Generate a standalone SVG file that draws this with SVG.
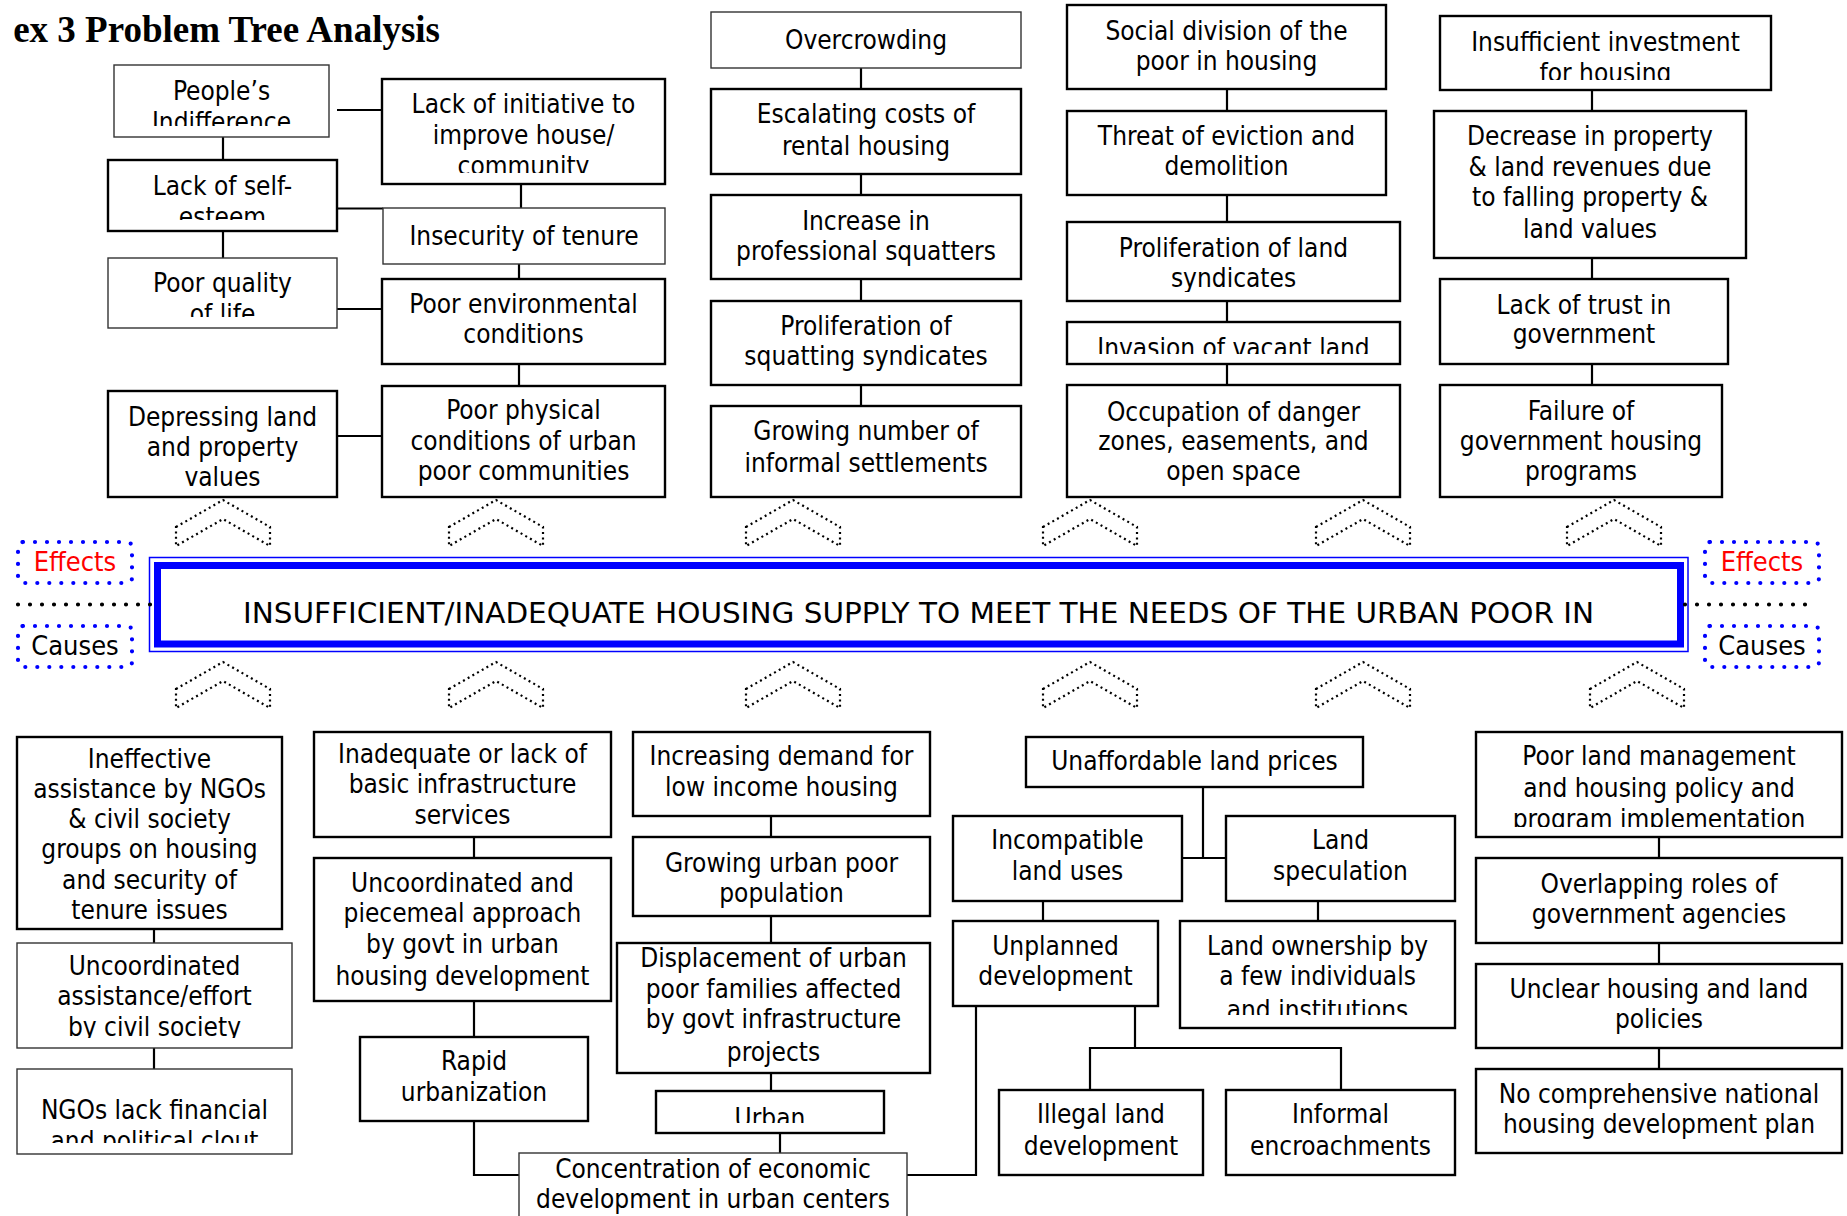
<svg xmlns="http://www.w3.org/2000/svg" width="1847" height="1216" viewBox="0 0 1847 1216">
  <style>
    .bx { fill: #fff; stroke: #000; stroke-width: 2.4; }
    .bt { fill: #fff; stroke: #333; stroke-width: 1.4; }
    .t { font-family: 'DejaVu Sans Condensed', 'DejaVu Sans', sans-serif; font-stretch: condensed; font-size: 26px; fill: #000; text-anchor: middle; }
    .ln { fill: none; stroke: #000; stroke-width: 2.2; }
    .chev { fill: none; stroke: #000; stroke-width: 2.2; stroke-dasharray: 2 3.4; }
    .legend { fill: none; stroke: #0000ff; stroke-width: 4.2; stroke-linecap: round; stroke-dasharray: 0 12; }
    .sep { fill: none; stroke: #000; stroke-width: 4.2; stroke-linecap: round; stroke-dasharray: 0 12; }
    .lt { font-family: 'DejaVu Sans Condensed', 'DejaVu Sans', sans-serif; font-stretch: condensed; font-size: 27px; text-anchor: middle; }
  </style>
  <defs>
    <path id="chevron" d="M-47,27 L0,0 L47,27 L47,46 L0,19 L-47,46 Z"/>
    <clipPath id="cA"><rect x="114" y="65" width="215" height="61"/></clipPath>
    <clipPath id="cB"><rect x="382" y="79" width="283" height="94"/></clipPath>
    <clipPath id="cC"><rect x="108" y="160" width="229" height="60"/></clipPath>
    <clipPath id="cE"><rect x="108" y="258" width="229" height="59"/></clipPath>
    <clipPath id="cH"><rect x="108" y="391" width="229" height="96"/></clipPath>
    <clipPath id="cP"><rect x="1067" y="222" width="333" height="70"/></clipPath>
    <clipPath id="cQ"><rect x="1067" y="322" width="333" height="32"/></clipPath>
    <clipPath id="cS"><rect x="1440" y="16" width="331" height="64"/></clipPath>
    <clipPath id="cX"><rect x="17" y="943" width="275" height="95"/></clipPath>
    <clipPath id="cY"><rect x="17" y="1069" width="275" height="74"/></clipPath>
    <clipPath id="cZ"><rect x="314" y="732" width="297" height="95"/></clipPath>
    <clipPath id="cAG"><rect x="656" y="1091" width="228" height="32"/></clipPath>
    <clipPath id="cAL"><rect x="1180" y="921" width="275" height="94"/></clipPath>
    <clipPath id="cAO"><rect x="1476" y="732" width="366" height="95"/></clipPath>
  </defs>

  <rect width="1847" height="1216" fill="#fff"/>

  <!-- heading -->
  <text x="440" y="42" font-family="'Liberation Serif', 'Times New Roman', serif" font-weight="bold" font-size="37" text-anchor="end">ex 3 Problem Tree Analysis</text>

  <!-- connectors -->
  <g id="connectors" class="ln">
    <path d="M337 110 H382"/>
    <path d="M223 137 V160"/>
    <path d="M521 184 V208"/>
    <path d="M337 208.5 H383"/>
    <path d="M223 231 V258"/>
    <path d="M519 264 V279"/>
    <path d="M337 309 H382"/>
    <path d="M519 364 V386"/>
    <path d="M337 436 H382"/>
    <path d="M861 68 V89 M861 174 V195 M861 279 V301 M861 385 V406"/>
    <path d="M1227 89 V111 M1227 195 V222 M1227 301 V322 M1227 364 V385"/>
    <path d="M1592 90 V111 M1592 258 V279 M1592 364 V385"/>
    <path d="M154 929 V943 M154 1048 V1069"/>
    <path d="M474 837 V858 M474 1001 V1037"/>
    <path d="M474 1121 V1175 H519"/>
    <path d="M771 816 V837 M771 916 V943 M771 1073 V1091 M780 1133 V1153"/>
    <path d="M907 1175 H976 V1006"/>
    <path d="M1203 787 V858 M1182 858 H1226"/>
    <path d="M1043 901 V921 M1318 901 V921"/>
    <path d="M1135 1006 V1048 M1090 1090 V1048 H1341 V1090"/>
    <path d="M1659 837 V858 M1659 943 V964 M1659 1048 V1069"/>
  </g>

  <!-- dotted double chevrons above and below the core problem -->
  <g id="chevrons" class="chev">
    <use href="#chevron" transform="translate(223 500)"/>
    <use href="#chevron" transform="translate(496 500)"/>
    <use href="#chevron" transform="translate(793 500)"/>
    <use href="#chevron" transform="translate(1090 500)"/>
    <use href="#chevron" transform="translate(1363 500)"/>
    <use href="#chevron" transform="translate(1614 500)"/>
    <use href="#chevron" transform="translate(223 662)"/>
    <use href="#chevron" transform="translate(496 662)"/>
    <use href="#chevron" transform="translate(793 662)"/>
    <use href="#chevron" transform="translate(1090 662)"/>
    <use href="#chevron" transform="translate(1363 662)"/>
    <use href="#chevron" transform="translate(1637 662)"/>
  </g>

  <!-- core problem -->
  <g id="core">
    <rect x="149.5" y="557.5" width="1538.5" height="94" fill="#fff" stroke="#0000ff" stroke-width="1.5"/>
    <rect x="157.5" y="565.5" width="1523" height="78.5" fill="#fff" stroke="#0000ff" stroke-width="7"/>
    <text x="243" y="623" font-family="'DejaVu Sans Condensed', 'DejaVu Sans', sans-serif" font-stretch="condensed" font-size="29" textLength="1351" lengthAdjust="spacingAndGlyphs">INSUFFICIENT/INADEQUATE HOUSING SUPPLY TO MEET THE NEEDS OF THE URBAN POOR IN</text>
  </g>

  <!-- effects / causes legend -->
  <g id="legend-left">
    <rect x="18" y="542" width="114" height="41" rx="5" class="legend"/>
    <text x="75" y="571" class="lt" fill="#ff0000">Effects</text>
    <path d="M18 604.5 H152" class="sep"/>
    <rect x="18" y="626" width="114" height="41" rx="5" class="legend"/>
    <text x="75" y="655" class="lt" fill="#000">Causes</text>
  </g>
  <g id="legend-right">
    <rect x="1705" y="542" width="114" height="41" rx="5" class="legend"/>
    <text x="1762" y="571" class="lt" fill="#ff0000">Effects</text>
    <path d="M1685 604.5 H1817" class="sep"/>
    <rect x="1705" y="626" width="114" height="41" rx="5" class="legend"/>
    <text x="1762" y="655" class="lt" fill="#000">Causes</text>
  </g>

  <!-- effects -->
  <g id="n-peoples-indifference">
    <rect x="114" y="65" width="215" height="72" class="bt"/>
    <text class="t" clip-path="url(#cA)"><tspan x="221.5" y="100">People’s</tspan><tspan x="221.5" y="131">Indifference</tspan></text>
  </g>
  <g id="n-lack-initiative">
    <rect x="382" y="79" width="283" height="105" class="bx"/>
    <text class="t" clip-path="url(#cB)"><tspan x="523.5" y="113">Lack of initiative to</tspan><tspan x="523.5" y="144">improve house/</tspan><tspan x="523.5" y="175">community</tspan></text>
  </g>
  <g id="n-self-esteem">
    <rect x="108" y="160" width="229" height="71" class="bx"/>
    <text class="t" clip-path="url(#cC)"><tspan x="222.5" y="195">Lack of self-</tspan><tspan x="222.5" y="226">esteem</tspan></text>
  </g>
  <g id="n-insecurity">
    <rect x="383" y="208" width="282" height="56" class="bt"/>
    <text class="t"><tspan x="524" y="245">Insecurity of tenure</tspan></text>
  </g>
  <g id="n-quality-of-life">
    <rect x="108" y="258" width="229" height="70" class="bt"/>
    <text class="t" clip-path="url(#cE)"><tspan x="222.5" y="292">Poor quality</tspan><tspan x="222.5" y="323">of life</tspan></text>
  </g>
  <g id="n-environment">
    <rect x="382" y="279" width="283" height="85" class="bx"/>
    <text class="t"><tspan x="523.5" y="313">Poor environmental</tspan><tspan x="523.5" y="343">conditions</tspan></text>
  </g>
  <g id="n-physical">
    <rect x="382" y="386" width="283" height="111" class="bx"/>
    <text class="t"><tspan x="523.5" y="419">Poor physical</tspan><tspan x="523.5" y="450">conditions of urban</tspan><tspan x="523.5" y="480">poor communities</tspan></text>
  </g>
  <g id="n-depressing-values">
    <rect x="108" y="391" width="229" height="106" class="bx"/>
    <text class="t" clip-path="url(#cH)"><tspan x="222.5" y="426">Depressing land</tspan><tspan x="222.5" y="456">and property</tspan><tspan x="222.5" y="486">values</tspan></text>
  </g>

  <g id="n-overcrowding">
    <rect x="711" y="12" width="310" height="56" class="bt"/>
    <text class="t"><tspan x="866" y="49">Overcrowding</tspan></text>
  </g>
  <g id="n-rental-costs">
    <rect x="711" y="89" width="310" height="85" class="bx"/>
    <text class="t"><tspan x="866" y="123">Escalating costs of</tspan><tspan x="866" y="155">rental housing</tspan></text>
  </g>
  <g id="n-professional-squatters">
    <rect x="711" y="195" width="310" height="84" class="bx"/>
    <text class="t"><tspan x="866" y="230">Increase in</tspan><tspan x="866" y="260">professional squatters</tspan></text>
  </g>
  <g id="n-squatting-syndicates">
    <rect x="711" y="301" width="310" height="84" class="bx"/>
    <text class="t"><tspan x="866" y="335">Proliferation of</tspan><tspan x="866" y="365">squatting syndicates</tspan></text>
  </g>
  <g id="n-informal-settlements">
    <rect x="711" y="406" width="310" height="91" class="bx"/>
    <text class="t"><tspan x="866" y="440">Growing number of</tspan><tspan x="866" y="472">informal settlements</tspan></text>
  </g>

  <g id="n-social-division">
    <rect x="1067" y="5" width="319" height="84" class="bx"/>
    <text class="t"><tspan x="1226.5" y="40">Social division of the</tspan><tspan x="1226.5" y="70">poor in housing</tspan></text>
  </g>
  <g id="n-eviction">
    <rect x="1067" y="111" width="319" height="84" class="bx"/>
    <text class="t"><tspan x="1226.5" y="145">Threat of eviction and</tspan><tspan x="1226.5" y="175">demolition</tspan></text>
  </g>
  <g id="n-land-syndicates">
    <rect x="1067" y="222" width="333" height="79" class="bx"/>
    <text class="t" clip-path="url(#cP)"><tspan x="1233.5" y="257">Proliferation of land</tspan><tspan x="1233.5" y="287">syndicates</tspan></text>
  </g>
  <g id="n-vacant-land">
    <rect x="1067" y="322" width="333" height="42" class="bx"/>
    <text class="t" clip-path="url(#cQ)"><tspan x="1233.5" y="357">Invasion of vacant land</tspan></text>
  </g>
  <g id="n-danger-zones">
    <rect x="1067" y="385" width="333" height="112" class="bx"/>
    <text class="t"><tspan x="1233.5" y="421">Occupation of danger</tspan><tspan x="1233.5" y="450">zones, easements, and</tspan><tspan x="1233.5" y="480">open space</tspan></text>
  </g>

  <g id="n-investment">
    <rect x="1440" y="16" width="331" height="74" class="bx"/>
    <text class="t" clip-path="url(#cS)"><tspan x="1605.5" y="51">Insufficient investment</tspan><tspan x="1605.5" y="82">for housing</tspan></text>
  </g>
  <g id="n-revenues">
    <rect x="1434" y="111" width="312" height="147" class="bx"/>
    <text class="t"><tspan x="1590" y="145">Decrease in property</tspan><tspan x="1590" y="176">&amp; land revenues due</tspan><tspan x="1590" y="206">to falling property &amp;</tspan><tspan x="1590" y="238">land values</tspan></text>
  </g>
  <g id="n-trust">
    <rect x="1440" y="279" width="288" height="85" class="bx"/>
    <text class="t"><tspan x="1584" y="314">Lack of trust in</tspan><tspan x="1584" y="343">government</tspan></text>
  </g>
  <g id="n-program-failure">
    <rect x="1440" y="385" width="282" height="112" class="bx"/>
    <text class="t"><tspan x="1581" y="420">Failure of</tspan><tspan x="1581" y="450">government housing</tspan><tspan x="1581" y="480">programs</tspan></text>
  </g>

  <!-- causes -->
  <g id="n-ngo-assistance">
    <rect x="17" y="737" width="265" height="192" class="bx"/>
    <text class="t"><tspan x="149.5" y="768">Ineffective</tspan><tspan x="149.5" y="798">assistance by NGOs</tspan><tspan x="149.5" y="828">&amp; civil society</tspan><tspan x="149.5" y="858">groups on housing</tspan><tspan x="149.5" y="889">and security of</tspan><tspan x="149.5" y="919">tenure issues</tspan></text>
  </g>
  <g id="n-civil-effort">
    <rect x="17" y="943" width="275" height="105" class="bt"/>
    <text class="t" clip-path="url(#cX)"><tspan x="154.5" y="975">Uncoordinated</tspan><tspan x="154.5" y="1005">assistance/effort</tspan><tspan x="154.5" y="1036">by civil society</tspan></text>
  </g>
  <g id="n-ngo-clout">
    <rect x="17" y="1069" width="275" height="85" class="bt"/>
    <text class="t" clip-path="url(#cY)"><tspan x="154.5" y="1119">NGOs lack financial</tspan><tspan x="154.5" y="1150">and political clout</tspan></text>
  </g>
  <g id="n-infrastructure">
    <rect x="314" y="732" width="297" height="105" class="bx"/>
    <text class="t" clip-path="url(#cZ)"><tspan x="462.5" y="763">Inadequate or lack of</tspan><tspan x="462.5" y="793">basic infrastructure</tspan><tspan x="462.5" y="824">services</tspan></text>
  </g>
  <g id="n-piecemeal">
    <rect x="314" y="858" width="297" height="143" class="bx"/>
    <text class="t"><tspan x="462.5" y="892">Uncoordinated and</tspan><tspan x="462.5" y="922">piecemeal approach</tspan><tspan x="462.5" y="953">by govt in urban</tspan><tspan x="462.5" y="985">housing development</tspan></text>
  </g>
  <g id="n-urbanization">
    <rect x="360" y="1037" width="228" height="84" class="bx"/>
    <text class="t"><tspan x="474" y="1070">Rapid</tspan><tspan x="474" y="1101">urbanization</tspan></text>
  </g>
  <g id="n-concentration">
    <rect x="519" y="1153" width="388" height="80" class="bt"/>
    <text class="t"><tspan x="713" y="1178">Concentration of economic</tspan><tspan x="713" y="1208">development in urban centers</tspan></text>
  </g>
  <g id="n-demand">
    <rect x="633" y="732" width="297" height="84" class="bx"/>
    <text class="t"><tspan x="781.5" y="765">Increasing demand for</tspan><tspan x="781.5" y="796">low income housing</tspan></text>
  </g>
  <g id="n-population">
    <rect x="633" y="837" width="297" height="79" class="bx"/>
    <text class="t"><tspan x="781.5" y="872">Growing urban poor</tspan><tspan x="781.5" y="902">population</tspan></text>
  </g>
  <g id="n-displacement">
    <rect x="617" y="943" width="313" height="130" class="bx"/>
    <text class="t"><tspan x="773.5" y="967">Displacement of urban</tspan><tspan x="773.5" y="998">poor families affected</tspan><tspan x="773.5" y="1028">by govt infrastructure</tspan><tspan x="773.5" y="1061">projects</tspan></text>
  </g>
  <g id="n-urban">
    <rect x="656" y="1091" width="228" height="42" class="bx"/>
    <text class="t" clip-path="url(#cAG)"><tspan x="770" y="1127">Urban</tspan></text>
  </g>

  <g id="n-land-prices">
    <rect x="1026" y="737" width="337" height="50" class="bx"/>
    <text class="t"><tspan x="1194.5" y="770">Unaffordable land prices</tspan></text>
  </g>
  <g id="n-land-uses">
    <rect x="953" y="816" width="229" height="85" class="bx"/>
    <text class="t"><tspan x="1067.5" y="849">Incompatible</tspan><tspan x="1067.5" y="880">land uses</tspan></text>
  </g>
  <g id="n-speculation">
    <rect x="1226" y="816" width="229" height="85" class="bx"/>
    <text class="t"><tspan x="1340.5" y="849">Land</tspan><tspan x="1340.5" y="880">speculation</tspan></text>
  </g>
  <g id="n-unplanned">
    <rect x="953" y="921" width="205" height="85" class="bx"/>
    <text class="t"><tspan x="1055.5" y="955">Unplanned</tspan><tspan x="1055.5" y="985">development</tspan></text>
  </g>
  <g id="n-ownership">
    <rect x="1180" y="921" width="275" height="107" class="bx"/>
    <text class="t" clip-path="url(#cAL)"><tspan x="1317.5" y="955">Land ownership by</tspan><tspan x="1317.5" y="985">a few individuals</tspan><tspan x="1317.5" y="1019">and institutions</tspan></text>
  </g>
  <g id="n-illegal">
    <rect x="999" y="1090" width="204" height="85" class="bx"/>
    <text class="t"><tspan x="1101" y="1123">Illegal land</tspan><tspan x="1101" y="1155">development</tspan></text>
  </g>
  <g id="n-encroachments">
    <rect x="1226" y="1090" width="229" height="85" class="bx"/>
    <text class="t"><tspan x="1340.5" y="1123">Informal</tspan><tspan x="1340.5" y="1155">encroachments</tspan></text>
  </g>

  <g id="n-land-management">
    <rect x="1476" y="732" width="366" height="105" class="bx"/>
    <text class="t" clip-path="url(#cAO)"><tspan x="1659" y="765">Poor land management</tspan><tspan x="1659" y="797">and housing policy and</tspan><tspan x="1659" y="828">program implementation</tspan></text>
  </g>
  <g id="n-overlapping-roles">
    <rect x="1476" y="858" width="366" height="85" class="bx"/>
    <text class="t"><tspan x="1659" y="893">Overlapping roles of</tspan><tspan x="1659" y="923">government agencies</tspan></text>
  </g>
  <g id="n-unclear-policies">
    <rect x="1476" y="964" width="366" height="84" class="bx"/>
    <text class="t"><tspan x="1659" y="998">Unclear housing and land</tspan><tspan x="1659" y="1028">policies</tspan></text>
  </g>
  <g id="n-national-plan">
    <rect x="1476" y="1069" width="366" height="84" class="bx"/>
    <text class="t"><tspan x="1659" y="1103">No comprehensive national</tspan><tspan x="1659" y="1133">housing development plan</tspan></text>
  </g>
</svg>
